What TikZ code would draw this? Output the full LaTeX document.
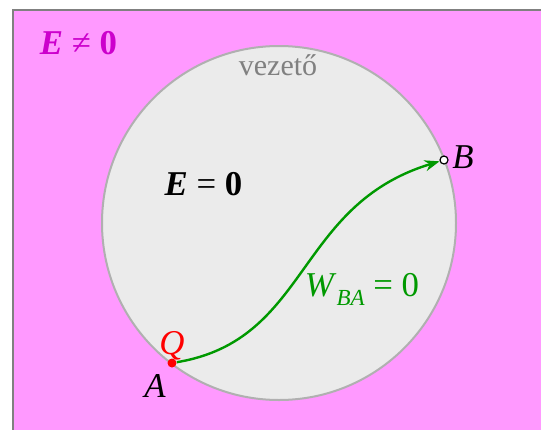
\documentclass[tikz,border=0pt]{standalone}
\usepackage{fontspec}
\setmainfont{Liberation Serif}
\usetikzlibrary{arrows.meta}
\definecolor{bgpink}{RGB}{255,153,255}
\definecolor{framegray}{RGB}{128,128,128}
\definecolor{condfill}{RGB}{235,235,235}
\definecolor{condline}{RGB}{176,176,176}
\definecolor{magtext}{RGB}{204,0,204}
\definecolor{pathgreen}{RGB}{0,153,0}
\definecolor{labelgray}{RGB}{128,128,128}
\newcommand{\subtxt}[1]{\raisebox{-0.28em}{\fontsize{11.5}{12}\selectfont\itshape #1}}
\tikzset{
  lbl/.style={inner sep=0pt, font=\fontsize{17.4}{20}\selectfont},
  reddot/.style={circle, fill=red, inner sep=0pt, minimum size=4.5pt},
  opendot/.style={circle, fill=white, draw=black, line width=0.6pt, inner sep=0pt, minimum size=4pt},
  patharrow/.style={draw=pathgreen, line width=1.2pt, -{Stealth[length=7.5pt,width=5.5pt]}}
}
\begin{document}
\begin{tikzpicture}[x=0.5pt,y=-0.5pt]
\clip (0,0) rectangle (541,429);
\fill[white] (0,0) rectangle (541,429);
\draw[fill=bgpink, draw=framegray, line width=1pt] (12.7,10) rectangle (600,500);
\draw[fill=condfill, draw=condline, line width=1pt] (279,223) circle[radius=177];
\node[lbl, font=\fontsize{15}{17}\selectfont, text=labelgray] (vez) at (278,65) {vezető};
\node[lbl, text=magtext] (Ene) at (78.5,43) {\textbf{\textit{E}} ≠ \textbf{0}};
\node[lbl] (Eeq) at (203.5,184.5) {\textbf{\textit{E}} = \textbf{0}};
\node[reddot] (A) at (172,363) {};
\node[opendot] (B) at (444,160) {};
\draw[patharrow] (A) .. controls (310,340) and (295,205) .. (B);
\node[lbl] (Alab) at (155,386.5) {\textit{A}};
\node[lbl, text=red] (Qlab) at (172,345.5) {\textit{Q}};
\node[lbl] (Blab) at (463,157) {\textit{B}};
\node[lbl, text=pathgreen] (Wlab) at (362,289.5) {\textit{W}\subtxt{BA} = 0};
\end{tikzpicture}
\end{document}
